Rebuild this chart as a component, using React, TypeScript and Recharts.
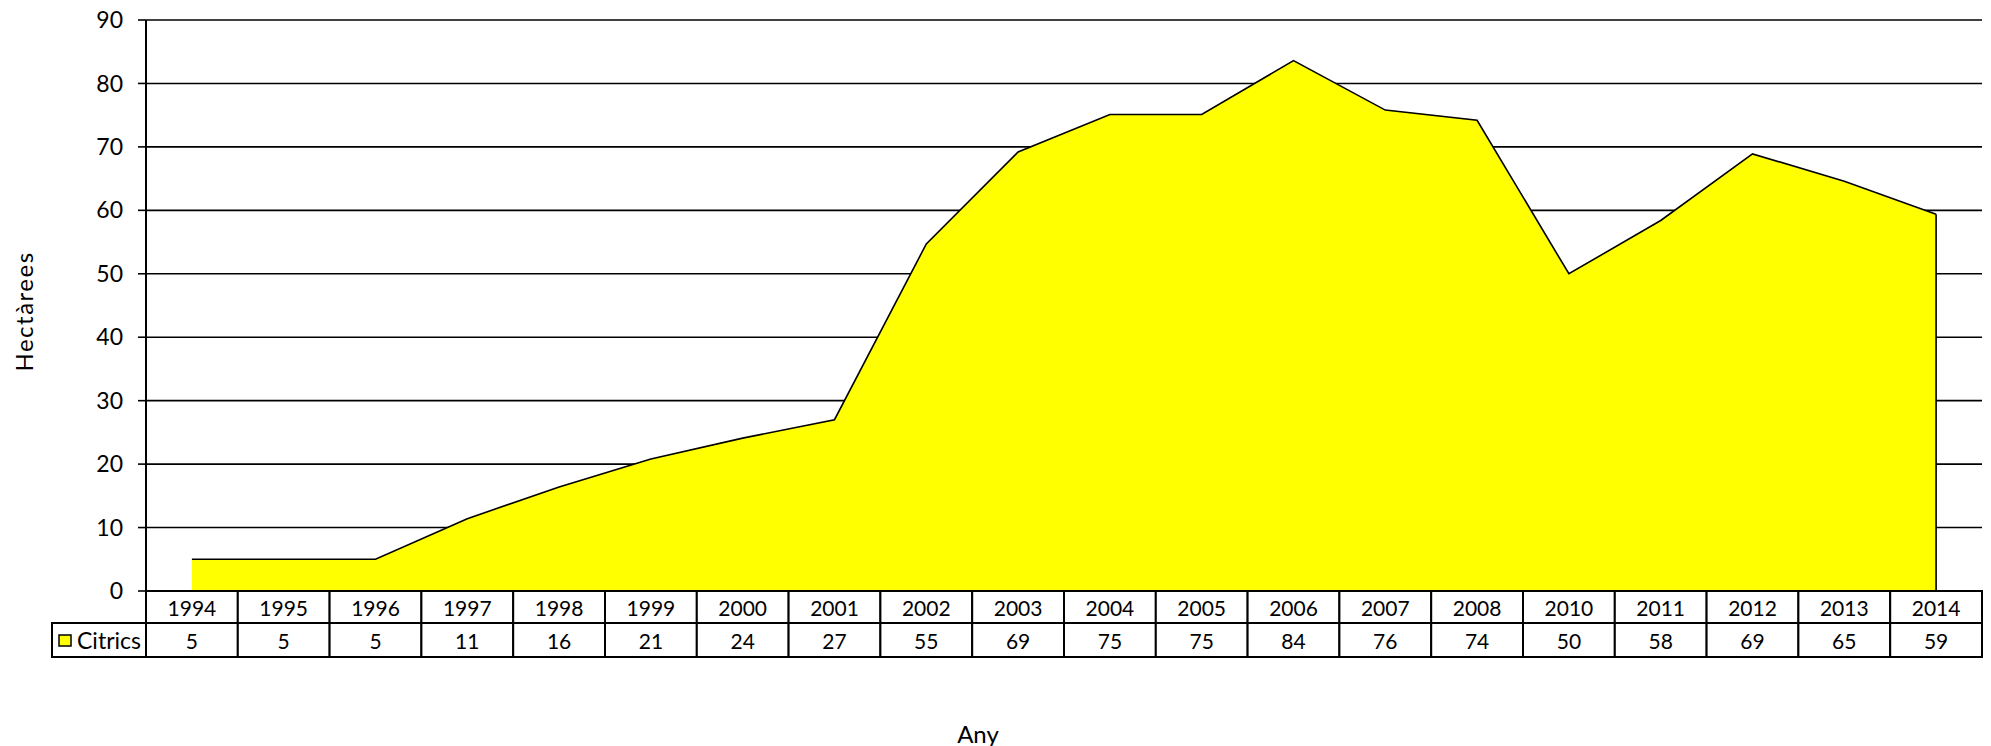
import React from 'react';
import { AreaChart, Area, XAxis, YAxis, CartesianGrid, ReferenceLine, Label } from 'recharts';

const years = ['1994', '1995', '1996', '1997', '1998', '1999', '2000', '2001', '2002', '2003', '2004', '2005', '2006', '2007', '2008', '2010', '2011', '2012', '2013', '2014'];
const citrics = [5, 5, 5, 11.4, 16.4, 20.8, 24.1, 27, 54.7, 69.2, 75.1, 75.1, 83.6, 75.8, 74.2, 50, 58.4, 68.9, 64.6, 59.4];
const yTicks = [0, 10, 20, 30, 40, 50, 60, 70, 80, 90];
const seriesName = 'Citrics';

const data = years.map((year, i) => ({ year, citrics: citrics[i] }));

const W = 1991;
const H = 746;
const margin = { top: 20, right: 9, left: 0, bottom: 89 };
const yAxisW = 146;
const plotW = W - margin.left - margin.right - yAxisW;
const cellW = plotW / years.length;
const font = 'Lato, "Open Sans", sans-serif';

const TableTick = (props: any) => {
  const { x, y, payload } = props;
  const i = years.indexOf(payload.value);
  const left = x - cellW / 2;
  const row1 = 32;
  const row2 = 34;
  return (
    <g>
      <rect x={left} y={y} width={cellW} height={row1 + row2} fill="#fff" stroke="#000" strokeWidth={2} />
      <line x1={left} x2={left + cellW} y1={y + row1} y2={y + row1} stroke="#000" strokeWidth={2} />
      <text x={x} y={y + row1 / 2} textAnchor="middle" dominantBaseline="central" fontSize={21} fontFamily={font} fill="#000">
        {payload.value}
      </text>
      <text x={x} y={y + row1 + row2 / 2} textAnchor="middle" dominantBaseline="central" fontSize={21} fontFamily={font} fill="#000">
        {Math.round(citrics[i])}
      </text>
      {i === 0 && (
        <g>
          <rect x={52} y={y + row1} width={left - 52} height={row2} fill="#fff" stroke="#000" strokeWidth={2} />
          <rect x={59} y={y + row1 + 12} width={12} height={11} fill="#FFFF00" stroke="#000" strokeWidth={1.5} />
          <text x={77} y={y + row1 + row2 / 2} dominantBaseline="central" fontSize={23} fontFamily={font} fill="#000">
            {seriesName}
          </text>
        </g>
      )}
    </g>
  );
};

export default function App() {
  return (
    <div style={{ position: 'absolute', left: 0, top: 0, background: '#fff' }}>
      <AreaChart width={W} height={H} data={data} margin={margin}>
        <CartesianGrid vertical={false} stroke="#000" strokeWidth={1.6} />
        <Area
          type="linear"
          dataKey="citrics"
          stroke="#000"
          strokeWidth={1.6}
          fill="#FFFF00"
          fillOpacity={1}
          baseValue={0}
          isAnimationActive={false}
        />
        <ReferenceLine segment={[{ x: years[0], y: 0 }, { x: years[0], y: citrics[0] }]} stroke="#000" strokeWidth={1.6} />
        <ReferenceLine
          segment={[{ x: years[years.length - 1], y: 0 }, { x: years[years.length - 1], y: citrics[citrics.length - 1] }]}
          stroke="#000"
          strokeWidth={1.6}
        />
        <XAxis
          dataKey="year"
          interval={0}
          height={66}
          padding={{ left: cellW / 2, right: cellW / 2 }}
          axisLine={false}
          tickLine={false}
          tickSize={0}
          tickMargin={0}
          tick={<TableTick />}
        >
          <Label
            content={() => (
              <text x={978} y={733} textAnchor="middle" dominantBaseline="central" fontSize={24} fontFamily={font} fill="#000">
                Any
              </text>
            )}
          />
        </XAxis>
        <YAxis
          width={yAxisW}
          domain={[0, 90]}
          ticks={yTicks}
          interval={0}
          axisLine={{ stroke: '#000', strokeWidth: 2 }}
          tickLine={{ stroke: '#000', strokeWidth: 1.6 }}
          tickSize={8}
          tickMargin={15}
          tick={{ fill: '#000', fontSize: 23, fontFamily: font }}
        >
          <Label
            content={(p: any) => {
              const vb = p.viewBox;
              const cy = vb.y + vb.height / 2 + 6;
              return (
                <text x={23} y={cy} transform={`rotate(-90, 23, ${cy})`} textAnchor="middle" dominantBaseline="central" fontSize={24} letterSpacing={1.5} fontFamily={font} fill="#000">
                  Hectàrees
                </text>
              );
            }}
          />
        </YAxis>
      </AreaChart>
    </div>
  );
}
